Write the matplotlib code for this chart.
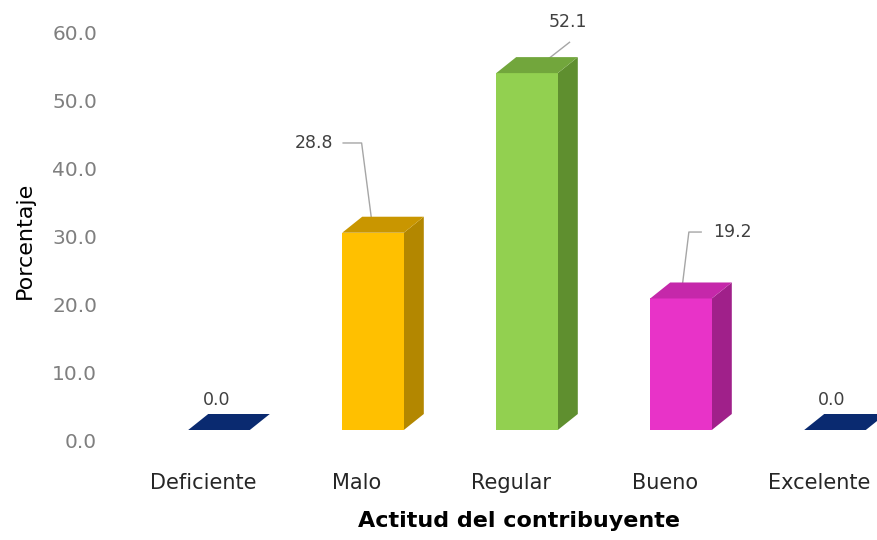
import numpy as np
import matplotlib
matplotlib.use('Agg')
import matplotlib.pyplot as plt
from matplotlib.patches import Polygon

categories = ['Deficiente', 'Malo', 'Regular', 'Bueno', 'Excelente']
values = [0.0, 28.8, 52.1, 19.2, 0.0]
front_colors = ['#002060', '#FFC000', '#92D050', '#E833C8', '#002060']
side_colors = ['#001540', '#B38700', '#5F8F2F', '#A0208A', '#001540']
top_colors = ['#0A2A70', '#C99600', '#72A63C', '#C528AA', '#0A2A70']
y_ticks = [0, 10, 20, 30, 40, 50, 60]

# label placement (data units relative to category / bar value)
label_dx = [0.09, -0.28, 0.37, 0.435, 0.085]
label_dy = [4.4, 13.1, 7.5, 9.7, 4.4]

W, H = 878, 540
fig = plt.figure(figsize=(W / 100, H / 100), dpi=100)
plt.rcParams['font.family'] = ['DejaVu Sans']

# axes for bars: value 0 at pixel y=430, 6.85 px per unit
px_unit = 6.85
x_left, x_right = 120, 878
cat_px0, cat_step = 203, 154
xlo = (x_left - cat_px0) / cat_step
xhi = (x_right - cat_px0) / cat_step
ax = fig.add_axes([x_left / W, (H - 430) / H, (x_right - x_left) / W, 60 * px_unit / H])
ax.set_xlim(xlo, xhi)
ax.set_ylim(0, 60)
ax.axis('off')

w = 0.40
ddx, ddy = 20 / cat_step, 16 / px_unit

for i, v in enumerate(values):
    x0 = i + 16 / cat_step - w / 2
    front = Polygon([(x0, 0), (x0 + w, 0), (x0 + w, v), (x0, v)],
                    closed=True, fc=front_colors[i], ec='none')
    side = Polygon([(x0 + w, 0), (x0 + w + ddx, ddy), (x0 + w + ddx, v + ddy), (x0 + w, v)],
                   closed=True, fc=side_colors[i], ec='none')
    top = Polygon([(x0, v), (x0 + w, v), (x0 + w + ddx, v + ddy), (x0 + ddx, v + ddy)],
                  closed=True, fc=top_colors[i], ec='none')
    for p in (side, front, top):
        ax.add_patch(p)

    lx, ly = i + label_dx[i], v + label_dy[i]
    ax.text(lx, ly, f'{v:.1f}', ha='center', va='center', fontsize=12.5,
            color='#404040')
    if v > 0:
        tx, ty = x0 + w / 2, v + 0.3
        if label_dx[i] < 0:
            sx = lx + 0.19
            pts = [(sx, ly), (sx + 0.12, ly), (tx, ty)]
        elif i == 2:
            tx, ty = x0 + w / 2 + 0.06, v + ddy * 0.3
            pts = [(lx + 0.01, ly - 3.0), (tx, ty)]
        else:
            sx = lx - 0.20
            pts = [(sx, ly), (sx - 0.08, ly), (tx, ty)]
        xs, ys = zip(*pts)
        ax.plot(xs, ys, color='#A6A6A6', lw=1.0, zorder=0)

# x category labels
for i, c in enumerate(categories):
    ax.text(i, -7.7, c, ha='center', va='center', fontsize=15, color='#262626')
ax.text(2.05, -13.3, 'Actitud del contribuyente', ha='center', va='center',
        fontsize=16, fontweight='bold', color='black')

# y tick axis (back wall scale)
axt = fig.add_axes([x_left / W, (H - 440) / H, 0.01, (440 - 33) / H])
axt.set_ylim(0, 60)
axt.set_yticks(y_ticks)
axt.set_yticklabels([f'{t:.1f}' for t in y_ticks], fontsize=14.5, color='#7F7F7F')
axt.tick_params(axis='y', length=0, pad=16.5)
axt.set_xticks([])
for s in axt.spines.values():
    s.set_visible(False)
axt.patch.set_visible(False)
fig.text(25 / W, 1 - 240 / H, 'Porcentaje', rotation=90, ha='center', va='center',
         fontsize=16, color='black')

fig.savefig('out.png', dpi=100)
